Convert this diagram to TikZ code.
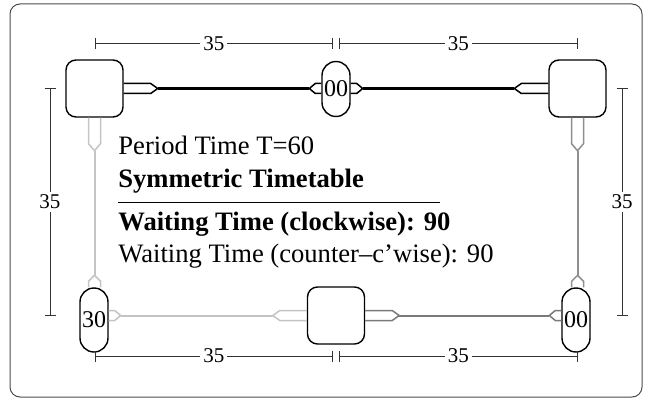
\documentclass[tikz,border=0pt]{standalone}
\usepackage{fontspec}
\setmainfont{Liberation Serif}
\usetikzlibrary{calc,arrows.meta}
\definecolor{lg}{HTML}{C4C4C4}
\definecolor{mg}{HTML}{8F8F8F}
\definecolor{dg}{HTML}{7A7A7A}
\begin{document}
\begin{tikzpicture}[x=0.5pt,y=-0.5pt,
 sq/.style={draw,line width=0.7pt,rounded corners=5pt,minimum width=28.5pt,minimum height=28.5pt,inner sep=0pt},
 capsule/.style={draw,line width=0.7pt,rounded corners=7pt,minimum width=14pt,inner sep=0pt,font=\fontsize{12}{14}\selectfont},
 port/.style={line width=0.75pt,line join=miter},
 edge/.style={line width=1pt},
 dim/.style={draw=black!80,line width=0.5pt,{Bar[width=5.5pt]}-{Bar[width=5.5pt]}},
 dimlabel/.style={fill=white,inner sep=1.5pt,font=\fontsize{10.5}{12}\selectfont},
 txt/.style={anchor=base west,inner sep=0pt,font=\fontsize{13.3}{15}\selectfont},
]
\useasboundingbox (0,0) rectangle (652,401);
\draw[black!70,line width=0.5pt,rounded corners=5pt] (10,4) rectangle (642,397);

% nodes
\node[sq] (tl) at (94.5,88.5) {};
\node[sq] (tr) at (577.5,88.5) {};
\node[sq] (bm) at (336,315.5) {};
\node[capsule,minimum height=27.5pt] (tc) at (336,89) {00};
\node[capsule,minimum height=32pt] (bl) at (94,320) {30};
\node[capsule,minimum height=32pt] (br) at (576,320) {00};

% ports
\draw[port] ($(tl.east)+(0,-5)$) -- ++(27,0) -- ++(7,5) coordinate (tlR) -- ++(-7,5) -- ++(-27,0);
\draw[port,lg] ($(tl.south)+(-6,0)$) -- ++(0,26) -- ++(6,7) coordinate (tlB) -- ++(6,-7) -- ++(0,-26);
\draw[port] ($(tc.west |- tl.east)+(0,-5)$) -- ++(-6,0) -- ++(-6,5) coordinate (tcL) -- ++(6,5) -- ++(6,0);
\draw[port] ($(tc.east |- tl.east)+(0,-5)$) -- ++(6,0) -- ++(6,5) coordinate (tcR) -- ++(-6,5) -- ++(-6,0);
\draw[port] ($(tr.west)+(0,-5)$) -- ++(-27,0) -- ++(-7,5) coordinate (trL) -- ++(7,5) -- ++(27,0);
\draw[port,mg] ($(tr.south)+(-6,0)$) -- ++(0,26) -- ++(6,7) coordinate (trB) -- ++(6,-7) -- ++(0,-26);
\draw[port,lg] ($(tl.south |- bl.north)+(-6,0)$) -- ++(0,-6) -- ++(6,-6) coordinate (blT) -- ++(6,6) -- ++(0,6);
\draw[port,lg] ($(bl.east |- bm.east)+(0,-5)$) -- ++(6,0) -- ++(6,5) coordinate (blR) -- ++(-6,5) -- ++(-6,0);
\draw[port,lg] ($(bm.west)+(0,-5)$) -- ++(-27,0) -- ++(-7,5) coordinate (bmL) -- ++(7,5) -- ++(27,0);
\draw[port,dg] ($(bm.east)+(0,-5)$) -- ++(27,0) -- ++(7,5) coordinate (bmR) -- ++(-7,5) -- ++(-27,0);
\draw[port,dg] ($(br.west |- bm.west)+(0,-5)$) -- ++(-6,0) -- ++(-6,5) coordinate (brL) -- ++(6,5) -- ++(6,0);
\draw[port,mg] ($(tr.south |- br.north)+(-6,0)$) -- ++(0,-6) -- ++(6,-6) coordinate (brT) -- ++(6,6) -- ++(0,6);

% edges
\draw[edge,line width=1.1pt] (tlR) -- (tcL);
\draw[edge,line width=1.1pt] (tcR) -- (trL);
\draw[edge,lg] (tlB) -- (blT);
\draw[edge,lg] (blR) -- (bmL);
\draw[edge,dg] (bmR) -- (brL);
\draw[edge,mg] (trB) -- (brT);

% dimensions
\coordinate (ytop) at (0,44);
\coordinate (ybot) at (0,356);
\coordinate (xl) at (50,0);
\coordinate (xr) at (622,0);
\draw[dim] (tl |- ytop) -- node[dimlabel]{35} ($(tc |- ytop)+(-3,0)$);
\draw[dim] ($(tc |- ytop)+(3,0)$) -- node[dimlabel]{35} (tr |- ytop);
\draw[dim] (tl |- ybot) -- node[dimlabel]{35} ($(bm |- ybot)+(-3,0)$);
\draw[dim] ($(bm |- ybot)+(3,0)$) -- node[dimlabel]{35} (tr |- ybot);
\draw[dim] (xl |- tl) -- node[dimlabel]{35} (xl |- bm);
\draw[dim] (xr |- tr) -- node[dimlabel]{35} (xr |- bm);

% text
\node[txt] (t1) at (118,154) {Period Time T=60};
\node[txt] (t2) at (118,187) {\bfseries Symmetric Timetable};
\draw[line width=0.5pt] (118,202) -- (440,202);
\node[txt] (t3) at (118,230) {\bfseries Waiting Time (clockwise): 90};
\node[txt] (t4) at (118,262) {Waiting Time (counter--c'wise): 90};
\end{tikzpicture}
\end{document}
